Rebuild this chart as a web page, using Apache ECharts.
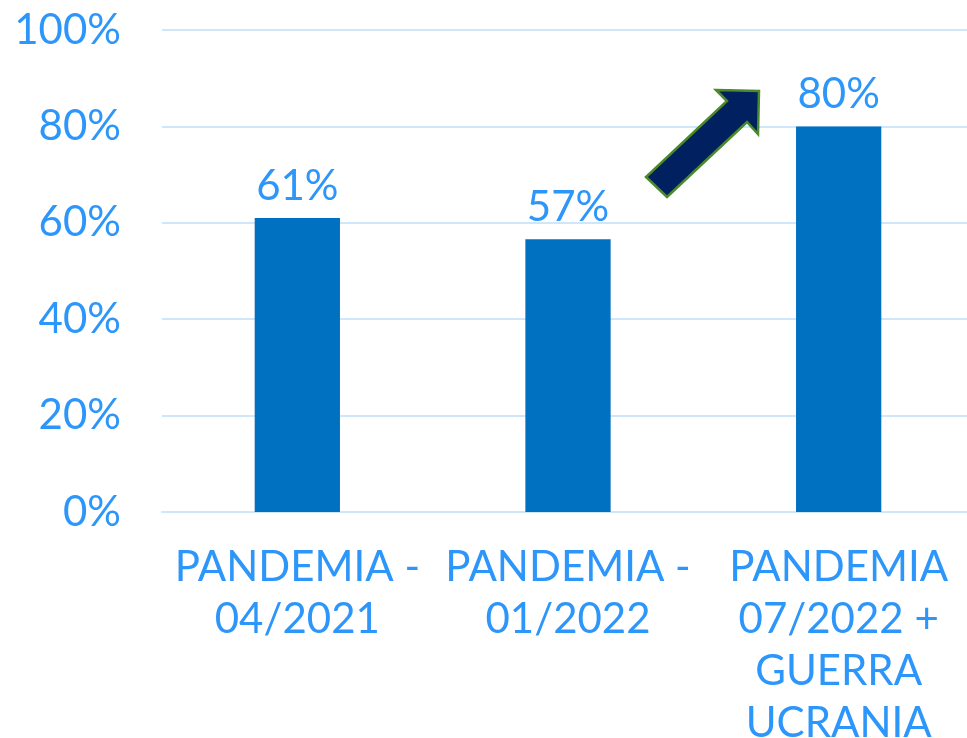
<!DOCTYPE html>
<html>
<head>
<meta charset="utf-8">
<script src="https://cdn.jsdelivr.net/npm/echarts@6/dist/echarts.min.js"></script>
<style>
  html, body { margin: 0; padding: 0; background: #fff; }
  #main { width: 967px; height: 738px; }
</style>
</head>
<body>
<div id="main"></div>
<script>
// categorias do eixo x
var categorias = [
    'PANDEMIA -\n04/2021',
    'PANDEMIA -\n01/2022',
    'PANDEMIA\n07/2022 +\nGUERRA\nUCRANIA'
];
// valores (%)
var valores = [61, 56.6, 80];
// marcas do eixo y
var yMin = 0, yMax = 100, yPasso = 20;

var corTexto = '#2d96fa';
var corBarra = '#0070c0';
var corGrade = '#cfe6fb';

var chart = echarts.init(document.getElementById('main'));

chart.setOption({
    animation: false,
    grid: { left: 162, right: -7, top: 30, bottom: 226, containLabel: false, outerBoundsMode: 'none' },
    xAxis: {
        type: 'category',
        data: categorias,
        axisLine: { show: true, lineStyle: { color: corGrade, width: 2 } },
        axisTick: { show: false },
        axisLabel: {
            color: corTexto,
            fontFamily: 'Lato',
            fontSize: 42,
            lineHeight: 52,
            margin: 29,
            interval: 0
        }
    },
    yAxis: {
        type: 'value',
        min: yMin,
        max: yMax,
        interval: yPasso,
        axisLine: { show: false },
        axisTick: { show: false },
        splitLine: { lineStyle: { color: corGrade, width: 2 } },
        axisLabel: {
            color: corTexto,
            fontFamily: 'Lato',
            fontSize: 42,
            margin: 41,
            formatter: '{value}%'
        }
    },
    series: [{
        type: 'bar',
        data: valores,
        barWidth: '31.5%',
        itemStyle: { color: corBarra },
        label: {
            show: true,
            position: 'top',
            distance: 11,
            color: corTexto,
            fontFamily: 'Lato',
            fontSize: 42,
            formatter: function (p) { return Math.round(p.value) + '%'; }
        }
    }],
    // seta de destaque
    graphic: [{
        type: 'polygon',
        shape: {
            points: [[716, 90], [759, 91], [758, 134], [747, 122], [667, 197], [646, 177], [727, 101]]
        },
        style: { fill: '#002060', stroke: '#4a8a2a', lineWidth: 2.5 },
        z: 100
    }]
});
</script>
</body>
</html>
